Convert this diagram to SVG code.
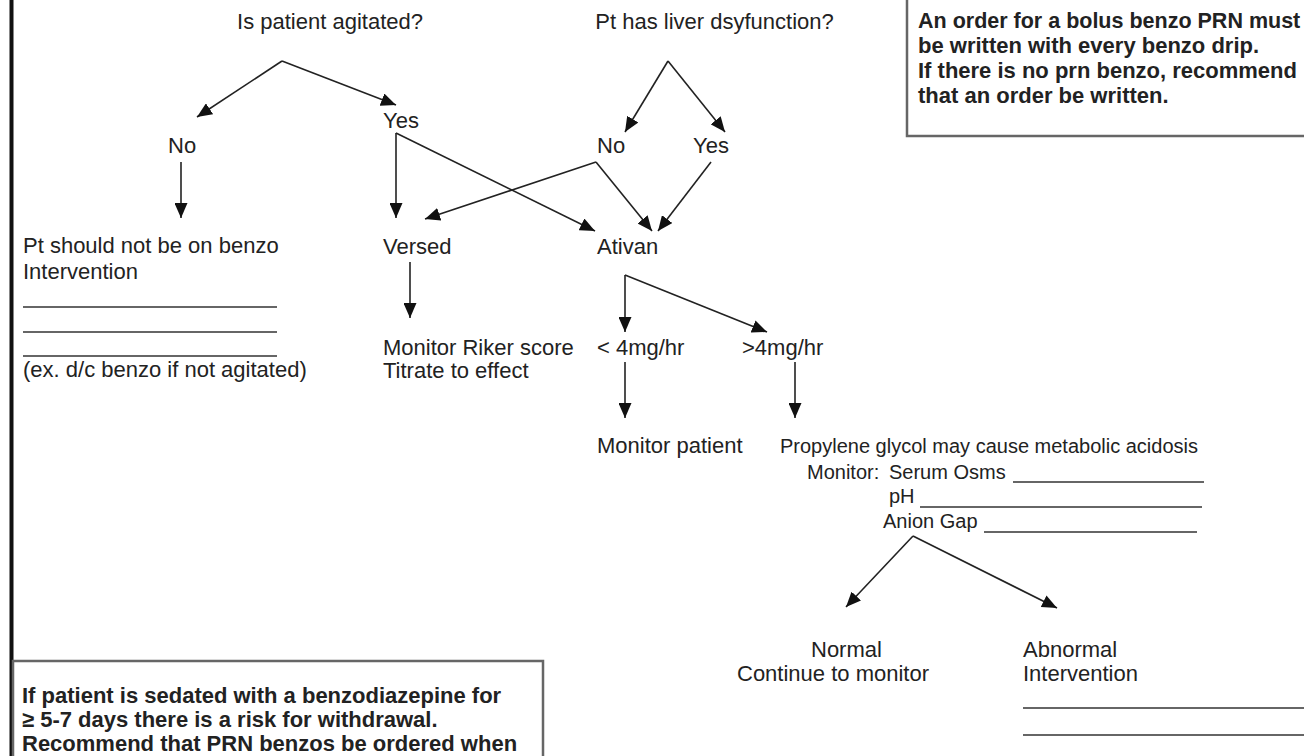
<svg xmlns="http://www.w3.org/2000/svg" width="1304" height="756" viewBox="0 0 1304 756">
<defs>
<marker id="ah" viewBox="0 0 15 13" refX="15" refY="6.5" markerWidth="15" markerHeight="13" markerUnits="userSpaceOnUse" orient="auto">
<path d="M0,0 L15,6.5 L0,13 z" fill="#111"/>
</marker>
<style>
text{font-family:"Liberation Sans",Arial,sans-serif;font-size:22px;fill:#222}
.b{font-weight:bold}
.s{font-size:20px}
.m{text-anchor:middle}
.c line{stroke:#222;stroke-width:1.6;marker-end:url(#ah)}
.u line{stroke:#333;stroke-width:1.6}
.box{fill:none;stroke:#666;stroke-width:2.5}
</style>
</defs>
<rect width="1304" height="756" fill="#fff"/>
<rect x="9.5" y="0" width="4" height="756" fill="#111"/>

<g id="note-top">
<rect class="box" x="907" y="-10" width="420" height="146"/>
<text class="b" x="918" y="28" style="font-size:21.5px">An order for a bolus benzo PRN must</text>
<text class="b" x="918" y="53">be written with every benzo drip.</text>
<text class="b" x="918" y="78">If there is no prn benzo, recommend</text>
<text class="b" x="918" y="103">that an order be written.</text>
</g>

<g id="note-bottom">
<rect class="box" x="13" y="661" width="530" height="120"/>
<text class="b" x="22" y="703">If patient is sedated with a benzodiazepine for</text>
<text class="b" x="22" y="727">≥ 5-7 days there is a risk for withdrawal.</text>
<text class="b" x="22" y="751">Recommend that PRN benzos be ordered when</text>
</g>

<g id="q-agitated"><text class="m" x="330" y="29">Is patient agitated?</text></g>
<g id="q-liver"><text class="m" x="714.5" y="29">Pt has liver dsyfunction?</text></g>
<g id="agit-no"><text x="168" y="153">No</text></g>
<g id="agit-yes"><text x="383" y="128">Yes</text></g>
<g id="liver-no"><text x="597" y="153">No</text></g>
<g id="liver-yes"><text x="693" y="153">Yes</text></g>

<g id="no-benzo">
<text x="23" y="253">Pt should not be on benzo</text>
<text x="23" y="279">Intervention</text>
<g class="u">
<line x1="23" y1="307" x2="277" y2="307"/>
<line x1="23" y1="332" x2="277" y2="332"/>
<line x1="23" y1="356" x2="277" y2="356"/>
</g>
<text x="23" y="377">(ex. d/c benzo if not agitated)</text>
</g>

<g id="versed"><text x="383" y="254">Versed</text></g>
<g id="ativan"><text x="597" y="254">Ativan</text></g>
<g id="monitor-riker">
<text x="383" y="355">Monitor Riker score</text>
<text x="383" y="378">Titrate to effect</text>
</g>
<g id="lt4"><text x="597" y="355">&lt; 4mg/hr</text></g>
<g id="gt4"><text x="742" y="355">&gt;4mg/hr</text></g>
<g id="monitor-patient"><text x="597" y="453">Monitor patient</text></g>

<g id="propylene">
<text class="s" x="780" y="453">Propylene glycol may cause metabolic acidosis</text>
<text class="s" x="807" y="479">Monitor:</text>
<text class="s" x="889" y="479">Serum Osms</text>
<text class="s" x="889" y="503">pH</text>
<text class="s" x="883" y="528">Anion Gap</text>
<g class="u">
<line x1="1013" y1="482" x2="1204" y2="482"/>
<line x1="920" y1="507" x2="1202" y2="507"/>
<line x1="984" y1="532" x2="1197" y2="532"/>
</g>
</g>

<g id="normal">
<text x="811" y="657">Normal</text>
<text x="737" y="681">Continue to monitor</text>
</g>
<g id="abnormal">
<text x="1023" y="657">Abnormal</text>
<text x="1023" y="681">Intervention</text>
<g class="u">
<line x1="1023" y1="708" x2="1304" y2="708"/>
<line x1="1023" y1="735" x2="1304" y2="735"/>
</g>
</g>

<g id="connectors" class="c">
<line x1="282" y1="61" x2="197" y2="117"/>
<line x1="282" y1="61" x2="396" y2="105"/>
<line x1="181" y1="162" x2="181" y2="218"/>
<line x1="396" y1="133" x2="396" y2="218"/>
<line x1="396" y1="133" x2="595" y2="231"/>
<line x1="668" y1="61" x2="625" y2="132"/>
<line x1="668" y1="61" x2="725" y2="132"/>
<line x1="596" y1="162" x2="425" y2="219"/>
<line x1="596" y1="162" x2="652" y2="231"/>
<line x1="711" y1="162" x2="658" y2="231"/>
<line x1="410" y1="262" x2="410" y2="318"/>
<line x1="625" y1="275" x2="625" y2="332"/>
<line x1="625" y1="275" x2="767" y2="332"/>
<line x1="625" y1="362" x2="625" y2="418"/>
<line x1="795" y1="362" x2="795" y2="418"/>
<line x1="913" y1="536" x2="846" y2="607"/>
<line x1="913" y1="536" x2="1057" y2="608"/>
</g>
</svg>
